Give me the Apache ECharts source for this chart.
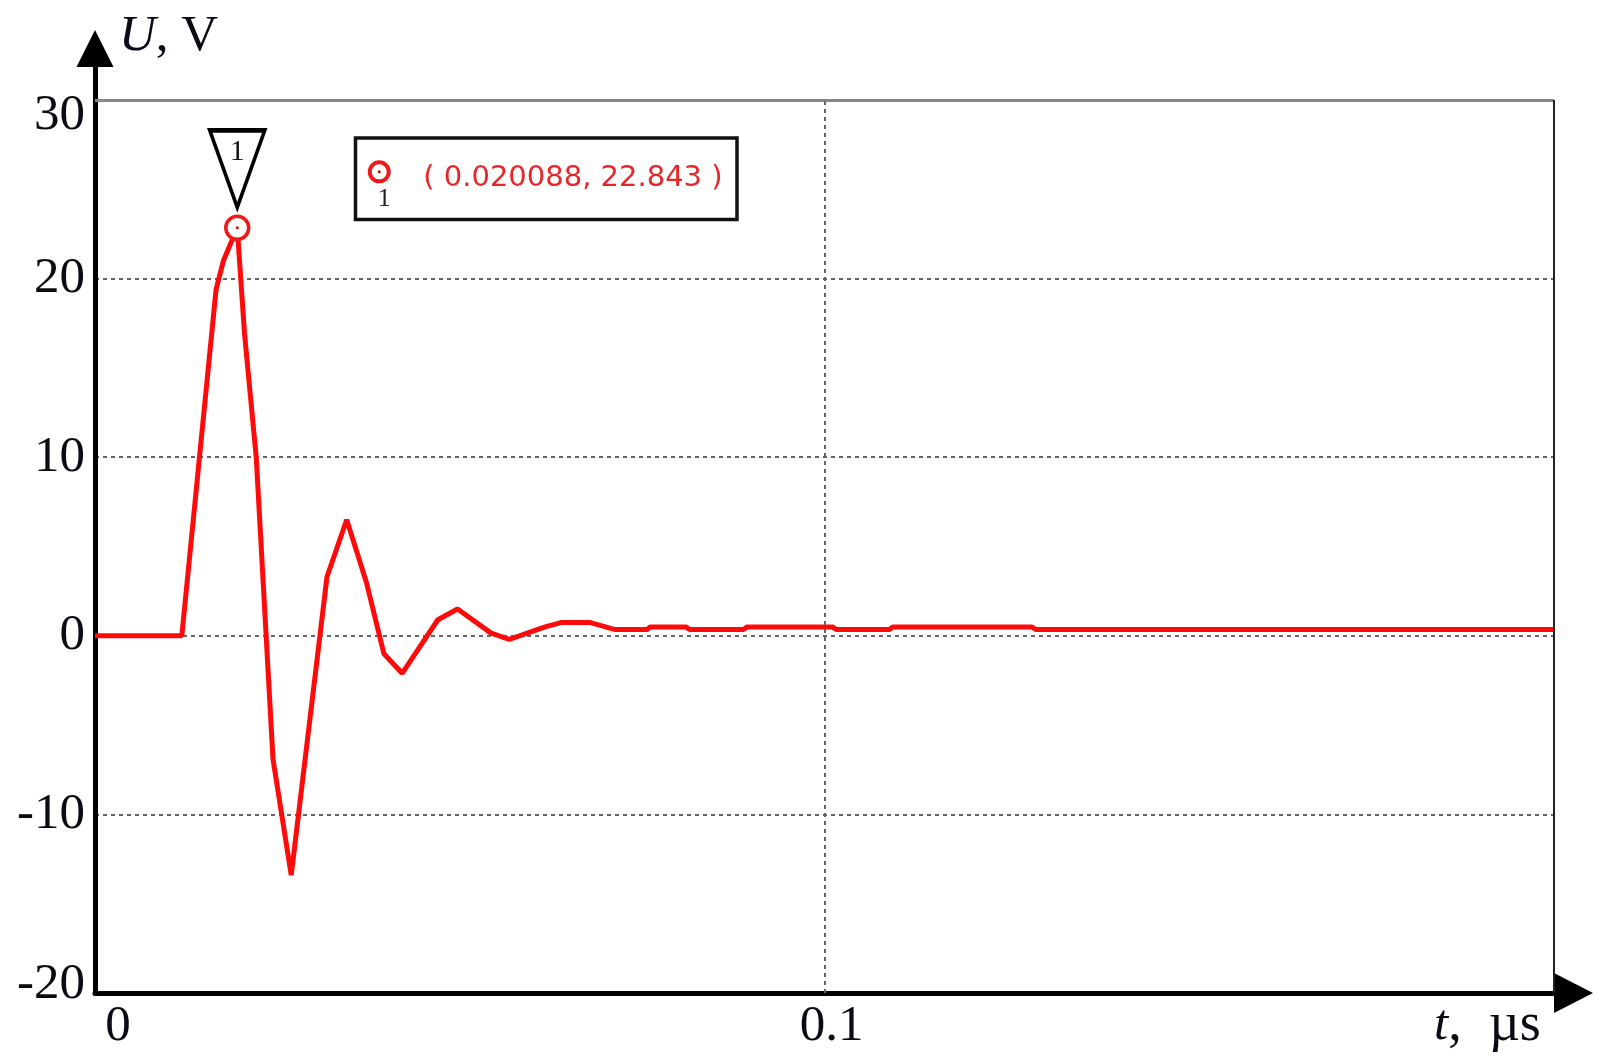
<!DOCTYPE html>
<html>
<head>
<meta charset="utf-8">
<script src="https://cdn.jsdelivr.net/npm/echarts@6/dist/echarts.min.js"></script>
<style>html,body{margin:0;padding:0;background:#fff;}#c{width:1616px;height:1064px;}</style>
</head>
<body>
<div id="c"></div>
<script>
// time, µs
const tData = [0, 0.0119, 0.0166, 0.0176, 0.0195, 0.0205, 0.0221, 0.0244, 0.0269, 0.0318, 0.0345, 0.0372, 0.0396, 0.0421,
  0.0470, 0.0497, 0.0543, 0.0568, 0.0617, 0.0640, 0.0678, 0.0713, 0.0757, 0.0761, 0.0810, 0.0815, 0.0889, 0.0894,
  0.1011, 0.1016, 0.1089, 0.1094, 0.1284, 0.1290, 0.2];
// voltage, V
const uData = [0, 0, 19.4, 21.0, 22.843, 16.9, 10, -6.9, -13.4, 3.3, 6.5, 3.0, -1.0, -2.1,
  0.9, 1.5, 0.15, -0.2, 0.5, 0.75, 0.75, 0.35, 0.35, 0.5, 0.5, 0.35, 0.35, 0.5,
  0.5, 0.35, 0.35, 0.5, 0.5, 0.35, 0.35];
const xTicks = [0, 0.1, 0.2];
const yTicks = [-20, -10, 0, 10, 20, 30];
const peakIndex = 4;
const markerLabel = [0.020088, 22.843];

const seriesData = tData.map((t, i) => [t, uData[i]]);
const peak = seriesData[peakIndex];
const xMin = xTicks[0], xMax = xTicks[xTicks.length - 1];
const yMin = yTicks[0], yTop = yTicks[yTicks.length - 1];

const serif = '"Liberation Serif", "DejaVu Serif", serif';
const txt = '#0b0b14';
const fs = 51;

const chart = echarts.init(document.getElementById('c'), null, {renderer: 'canvas'});
chart.setOption({
  backgroundColor: '#fff',
  animation: false,
  grid: {left: 95, right: 62, top: 67, bottom: 71},
  xAxis: {
    type: 'value', min: xMin, max: xMax, interval: 0.1,
    axisLine: {onZero: false, lineStyle: {color: '#000', width: 5},
      symbol: ['none', 'triangle'], symbolSize: [40, 39], symbolOffset: [0, 19.5]},
    axisTick: {show: false},
    splitLine: {show: false},
    axisLabel: {
      showMaxLabel: false, margin: 8, color: txt, fontFamily: serif, fontSize: fs,
      formatter: v => v === 0 ? '{a|0}' : '{b|' + v + '}',
      rich: {
        a: {fontFamily: serif, fontSize: fs, color: txt, padding: [0, 0, 0, 46]},
        b: {fontFamily: serif, fontSize: fs, color: txt, padding: [0, 0, 0, 14]}
      }
    },
    name: '{i|t}{n|,  µs}', nameLocation: 'end', nameGap: -120,
    nameTextStyle: {
      verticalAlign: 'top', align: 'left', padding: [6, 0, 0, 0],
      rich: {
        i: {fontFamily: serif, fontSize: fs, fontStyle: 'italic', color: txt},
        n: {fontFamily: serif, fontSize: 54, color: txt}
      }
    }
  },
  yAxis: {
    type: 'value', min: yMin, max: 31.85, interval: 10,
    axisLine: {onZero: false, lineStyle: {color: '#000', width: 5},
      symbol: ['none', 'triangle'], symbolSize: [37, 37], symbolOffset: [0, 18.5]},
    axisTick: {show: false},
    splitLine: {show: true, showMinLine: false, showMaxLine: false,
      lineStyle: {color: '#666', width: 2, type: [4, 4]}},
    axisLabel: {
      showMaxLabel: false, margin: 10, color: txt, fontFamily: serif, fontSize: fs,
      formatter: v => v === yTop ? '{d|' + v + '}' : (v === yMin ? '{u|' + v + '}' : '{n|' + v + '}'),
      rich: {
        d: {fontFamily: serif, fontSize: fs, color: txt, padding: [32, 0, 0, 0]},
        u: {fontFamily: serif, fontSize: fs, color: txt, padding: [0, 0, 16, 0]},
        n: {fontFamily: serif, fontSize: fs, color: txt}
      }
    },
    name: '{i|U}{n|, V}', nameLocation: 'end', nameGap: 30,
    nameTextStyle: {
      align: 'left', verticalAlign: 'middle', padding: [0, 0, 0, 24],
      rich: {
        i: {fontFamily: serif, fontSize: fs, fontStyle: 'italic', color: txt},
        n: {fontFamily: serif, fontSize: fs, color: txt}
      }
    }
  },
  series: [{
    type: 'line',
    z: 2,
    data: seriesData,
    showSymbol: false,
    lineStyle: {color: '#ff0a0a', width: 5},
    markLine: {
      silent: true, symbol: 'none', label: {show: false},
      data: [
        [{coord: [xMin, yTop], lineStyle: {color: '#888', width: 3, type: 'solid'}}, {coord: [xMax, yTop]}],
        [{coord: [xMax, yMin], lineStyle: {color: '#222', width: 2, type: 'solid'}}, {coord: [xMax, yTop]}],
        [{coord: [xTicks[1], yMin], lineStyle: {color: '#666', width: 2, type: [4, 4]}}, {coord: [xTicks[1], yTop]}]
      ]
    },
    markPoint: {
      silent: true,
      data: [
        // info box with text
        {coord: peak, symbolSize: 0, label: {show: true, position: 'inside', offset: [120, -49],
          formatter: '( ' + markerLabel[0] + ', ' + markerLabel[1] + ' )',
          fontFamily: '"DejaVu Sans", sans-serif', fontSize: 29, color: '#e8262a',
          lineHeight: 34, width: 300, align: 'left',
          backgroundColor: '#fff', borderColor: '#111', borderWidth: 3.5,
          padding: [16, 12, 28, 66]}},
        // triangle flag
        {coord: peak, symbol: 'triangle', symbolSize: [55, 77], symbolRotate: 180, symbolOffset: [0, -59],
          itemStyle: {color: '#fff', borderColor: '#000', borderWidth: 4}, label: {show: false}},
        {coord: peak, symbolSize: 0, label: {show: true, position: 'inside', offset: [0, -76],
          formatter: '1', fontFamily: serif, fontSize: 30, color: '#111'}},
        // peak marker
        {coord: peak, symbol: 'circle', symbolSize: 23,
          itemStyle: {color: '#fff', borderColor: '#f01818', borderWidth: 3.5}, label: {show: false}},
        {coord: peak, symbol: 'circle', symbolSize: 3,
          itemStyle: {color: '#c00'}, label: {show: false}}
      ]
    }
  }, {
    type: 'line',
    z: 20,
    data: [],
    markPoint: {
      silent: true,
      z: 20,
      data: [
        // legend icon inside the box
        {coord: peak, symbol: 'circle', symbolSize: 19, symbolOffset: [142, -56],
          itemStyle: {color: '#fff', borderColor: '#f01818', borderWidth: 4}, label: {show: false}},
        {coord: peak, symbol: 'circle', symbolSize: 3, symbolOffset: [142, -56],
          itemStyle: {color: '#c00'}, label: {show: false}},
        {coord: peak, symbolSize: 0, label: {show: true, position: 'inside', offset: [147, -29],
          formatter: '1', fontFamily: serif, fontSize: 26, color: '#222'}}
      ]
    }
  }]
});
</script>
</body>
</html>
